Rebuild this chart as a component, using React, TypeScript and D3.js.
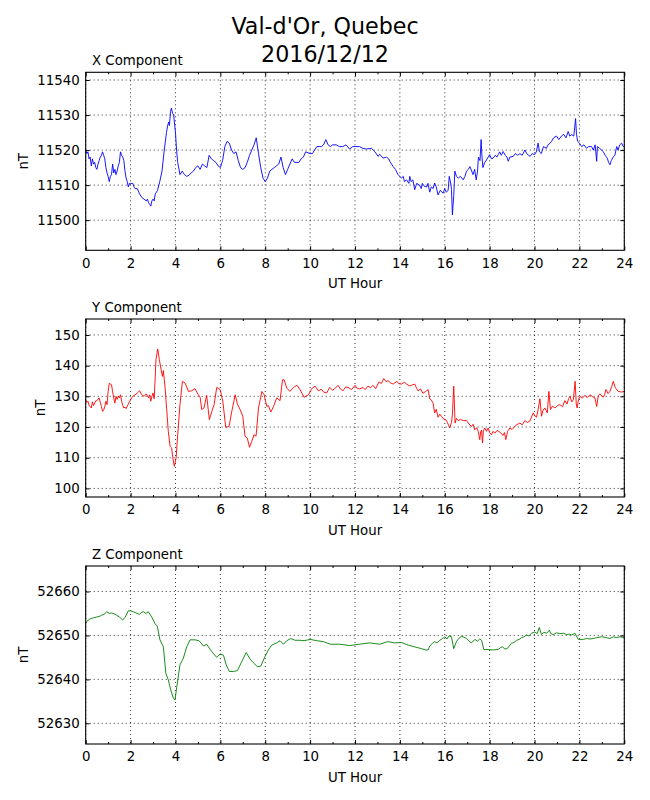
import { FC, useEffect, useRef } from 'react';
import * as d3 from 'd3';

// values (UT hour, nT)
const xHours = [
  0, 0.05, 0.1, 0.15, 0.2, 0.25, 0.3, 0.35, 0.4, 0.45, 0.5, 0.55, 0.6, 0.65, 0.7, 0.75, 0.8, 0.85, 0.9, 0.95,
  1, 1.05, 1.1, 1.15, 1.2, 1.25, 1.3, 1.35, 1.4, 1.45, 1.5, 1.55, 1.6, 1.65, 1.7, 1.75, 1.8, 1.85, 1.9, 1.95,
  2, 2.1, 2.15, 2.2, 2.3, 2.4, 2.5, 2.6, 2.7, 2.75, 2.8, 2.85, 2.9, 2.95, 3, 3.05, 3.1, 3.15, 3.2, 3.3,
  3.4, 3.5, 3.6, 3.65, 3.7, 3.73, 3.78, 3.82, 3.87, 3.92, 4, 4.05, 4.1, 4.2, 4.3, 4.4, 4.5, 4.6, 4.7, 4.8,
  4.9, 5, 5.1, 5.2, 5.3, 5.4, 5.5, 5.6, 5.7, 5.8, 5.9, 6, 6.1, 6.2, 6.3, 6.4, 6.5, 6.6, 6.7, 6.8,
  6.9, 7, 7.1, 7.2, 7.3, 7.4, 7.5, 7.6, 7.7, 7.8, 7.9, 8, 8.1, 8.2, 8.3, 8.4, 8.5, 8.6, 8.7, 8.8,
  8.9, 9, 9.1, 9.2, 9.3, 9.5, 9.6, 9.7, 9.8, 10, 10.1, 10.2, 10.3, 10.5, 10.6, 10.7, 10.8, 10.9, 11, 11.17,
  11.3, 11.46, 11.6, 11.76, 11.9, 12, 12.2, 12.35, 12.5, 12.73, 12.88, 13.03, 13.1, 13.25, 13.4, 13.5, 13.55, 13.7, 13.8, 13.92,
  14.07, 14.15, 14.2, 14.3, 14.4, 14.44, 14.5, 14.58, 14.66, 14.75, 14.88, 14.95, 15, 15.1, 15.2, 15.25, 15.33, 15.4, 15.48, 15.55,
  15.62, 15.7, 15.8, 15.93, 16, 16.07, 16.15, 16.2, 16.28, 16.3, 16.34, 16.4, 16.45, 16.52, 16.6, 16.7, 16.82, 16.9, 16.97, 17.05,
  17.12, 17.2, 17.26, 17.33, 17.4, 17.46, 17.5, 17.57, 17.62, 17.66, 17.7, 17.78, 17.86, 17.93, 18, 18.08, 18.15, 18.25, 18.32, 18.38,
  18.45, 18.52, 18.6, 18.7, 18.77, 18.83, 18.9, 19.05, 19.15, 19.25, 19.35, 19.45, 19.57, 19.65, 19.8, 19.9, 20, 20.08, 20.16, 20.22,
  20.3, 20.4, 20.53, 20.6, 20.7, 20.76, 20.85, 20.98, 21.08, 21.2, 21.3, 21.4, 21.5, 21.57, 21.65, 21.75, 21.83, 21.87, 21.92, 22,
  22.1, 22.2, 22.32, 22.4, 22.54, 22.62, 22.7, 22.77, 22.8, 22.9, 23.06, 23.15, 23.24, 23.3, 23.36, 23.42, 23.5, 23.58, 23.66, 23.72,
  23.8, 23.88, 23.95, 24,
];
const xValues = [
  11520, 11519, 11519.5, 11517.5, 11518, 11515.5, 11517.5, 11516, 11516.5, 11515, 11514.5, 11516, 11517, 11518, 11518.5, 11519.5, 11518.5, 11517.5, 11515, 11513.5,
  11512.5, 11511, 11512.5, 11513, 11516, 11513.5, 11514.5, 11513, 11514, 11515.5, 11516.5, 11519.5, 11518.5, 11518, 11517, 11514, 11512, 11511, 11509.5, 11510.5,
  11510.5, 11510.5, 11509.5, 11509, 11509, 11507.5, 11506.5, 11506, 11505.5, 11506, 11505, 11504.5, 11504, 11505.5, 11506, 11505.5, 11507.5, 11508, 11508.5, 11511,
  11514, 11520, 11525, 11527, 11528, 11527, 11531, 11532, 11530.5, 11530, 11525, 11520, 11516.5, 11513, 11514, 11513, 11512.5, 11512.8, 11513.5, 11514,
  11515, 11515.5, 11514.5, 11516, 11515.5, 11515, 11518.5, 11517.5, 11517, 11516.5, 11515.5, 11515, 11517, 11521, 11522.5, 11522, 11520, 11519, 11519.5, 11517,
  11515, 11514.5, 11515, 11516.5, 11518.5, 11520, 11521.5, 11523.5, 11519, 11515, 11512, 11511, 11512, 11514, 11514.5, 11515, 11515.5, 11516, 11518, 11515,
  11513, 11514.5, 11516, 11517.5, 11516.5, 11516.5, 11517.5, 11518, 11519.5, 11519, 11519, 11520, 11521, 11521, 11521.5, 11523, 11521.5, 11521, 11521.5, 11521.5,
  11521, 11521, 11521.5, 11520.3, 11521, 11521, 11521, 11520.5, 11520.3, 11520.5, 11519.6, 11518.2, 11518.8, 11517.7, 11518, 11517.5, 11516.8, 11515.3, 11514.5, 11513,
  11512, 11512.5, 11511, 11511.5, 11510.5, 11512.5, 11511, 11511.5, 11508.7, 11510.5, 11510, 11509, 11510.5, 11509.6, 11509.5, 11510.5, 11508, 11509.5, 11509, 11510.6,
  11509.5, 11507.2, 11508.5, 11507.7, 11509, 11508, 11508.5, 11512.5, 11510, 11508.7, 11501.5, 11507, 11514, 11512.5, 11512, 11512.5, 11511.5, 11512.5, 11514, 11514.5,
  11515.3, 11514, 11513, 11514.5, 11511.5, 11514, 11518, 11517, 11523, 11518, 11515, 11516.5, 11517.2, 11518, 11518.7, 11517.5, 11517.7, 11518.5, 11518, 11518.7,
  11519.5, 11518.5, 11519.6, 11518.5, 11518, 11516.8, 11518, 11518.2, 11519, 11518.5, 11519, 11518.5, 11520, 11519, 11518.2, 11519, 11518.7, 11519.5, 11522, 11519.5,
  11519, 11521, 11520.5, 11521.5, 11522, 11522.5, 11523.5, 11524, 11523, 11524, 11524.5, 11523.5, 11525.3, 11524, 11524.4, 11524, 11529, 11524.5, 11522.5, 11522,
  11521, 11521.5, 11520.5, 11521, 11521, 11520, 11521.5, 11516.8, 11521, 11520.5, 11519.6, 11518.5, 11517.7, 11516.5, 11515.8, 11517, 11518, 11518.5, 11521, 11520,
  11521.5, 11522, 11521, 11521,
];

const yHours = [
  0, 0.05, 0.1, 0.15, 0.2, 0.25, 0.3, 0.35, 0.4, 0.45, 0.5, 0.6, 0.65, 0.7, 0.75, 0.8, 0.85, 0.9, 0.95, 1,
  1.05, 1.1, 1.15, 1.2, 1.25, 1.3, 1.35, 1.4, 1.45, 1.5, 1.55, 1.6, 1.65, 1.7, 1.75, 1.8, 1.9, 2, 2.1, 2.2,
  2.3, 2.4, 2.5, 2.6, 2.7, 2.8, 2.85, 2.9, 2.95, 3, 3.05, 3.1, 3.13, 3.21, 3.28, 3.36, 3.42, 3.46, 3.54, 3.61,
  3.68, 3.76, 3.83, 3.88, 3.95, 4.03, 4.1, 4.2, 4.31, 4.43, 4.58, 4.72, 4.87, 5.02, 5.1, 5.17, 5.27, 5.39, 5.51, 5.62,
  5.72, 5.84, 5.99, 6.11, 6.24, 6.39, 6.51, 6.66, 6.76, 6.88, 7, 7.1, 7.2, 7.3, 7.4, 7.5, 7.59, 7.7, 7.85, 7.95,
  8.07, 8.14, 8.25, 8.37, 8.51, 8.66, 8.77, 8.84, 8.96, 9.1, 9.26, 9.41, 9.55, 9.73, 9.93, 10.07, 10.22, 10.37, 10.5, 10.6,
  10.74, 10.87, 11, 11.1, 11.24, 11.35, 11.46, 11.58, 11.69, 11.85, 12, 12.1, 12.2, 12.36, 12.45, 12.58, 12.7, 12.8, 12.92, 13.07,
  13.18, 13.28, 13.38, 13.47, 13.6, 13.7, 13.87, 13.95, 14.07, 14.2, 14.3, 14.42, 14.51, 14.66, 14.75, 14.81, 14.92, 15.03, 15.15, 15.26,
  15.33, 15.4, 15.48, 15.55, 15.62, 15.7, 15.78, 15.85, 15.95, 16.04, 16.12, 16.22, 16.3, 16.34, 16.4, 16.46, 16.52, 16.6, 16.7, 16.82,
  16.97, 17.08, 17.19, 17.26, 17.34, 17.42, 17.49, 17.56, 17.6, 17.64, 17.68, 17.72, 17.78, 17.86, 17.93, 18.0, 18.08, 18.15, 18.23, 18.33,
  18.45, 18.52, 18.6, 18.66, 18.72, 18.8, 18.9, 19.0, 19.12, 19.22, 19.35, 19.45, 19.57, 19.68, 19.8, 19.94, 20.02, 20.09, 20.16, 20.24,
  20.31, 20.38, 20.46, 20.57, 20.64, 20.71, 20.8, 20.91, 21.02, 21.13, 21.25, 21.35, 21.45, 21.52, 21.58, 21.66, 21.73, 21.81, 21.86, 21.9,
  21.96, 22.02, 22.12, 22.25, 22.35, 22.47, 22.58, 22.69, 22.77, 22.84, 22.91, 23.06, 23.12, 23.18, 23.28, 23.36, 23.44, 23.51, 23.6, 23.73,
  23.88, 24,
];
const yValues = [
  128.9, 128, 128.4, 127, 126.7, 126.2, 128.2, 127, 127.8, 128.5, 128.6, 129.5, 128, 126.7, 125.1, 125.5, 126.7, 128.4, 127.3, 131.6,
  134.3, 134, 133.8, 131.5, 129.5, 127.8, 130, 129, 130, 129.5, 130.5, 128.4, 127, 126.2, 126.5, 126, 127.5, 128.9, 130, 130.5,
  131.1, 131.8, 130.5, 130, 130.8, 129.5, 130.5, 128.4, 130, 131.1, 129.2, 136.5, 141.9, 145.4, 142, 138.7, 136.5, 138.4, 132.7, 125.7,
  118.6, 113.7, 113.2, 110, 107.2, 110, 117.5, 127.3, 134.9, 134.3, 131.6, 131.8, 132.5, 130.5, 129.7, 125.7, 126.2, 130.3, 122.4, 125.1,
  127.3, 132.9, 132.2, 128.4, 119.9, 120.2, 125.1, 130.5, 127.5, 125.7, 123.5, 117, 116.4, 113.4, 115.3, 117.5, 117, 126.2, 131.6, 130.5,
  126.7, 127, 124.9, 126.7, 129.5, 128.6, 135.4, 135.4, 132.7, 131.6, 132.9, 133.6, 132.2, 129.7, 130.5, 132.5, 133.3, 131.8, 132.3, 131.4,
  131.1, 132.9, 132, 132.5, 133.6, 132.4, 131.8, 133, 132.9, 132.2, 133.6, 132.6, 132.4, 132.9, 132.2, 133.3, 132.8, 133.6, 132.5, 134.7,
  134.2, 135.8, 134.8, 135.1, 134.3, 134, 134.9, 134.1, 134, 134.6, 134, 133.4, 133.6, 134, 132.6, 131.8, 132.4, 131, 131.6, 132.2,
  129.2, 128.8, 127.8, 124.6, 125.8, 123.2, 124.2, 123.5, 122.6, 122.4, 121.4, 119.7, 121.5, 124, 133.3, 121.3, 122.8, 122.1, 122.5, 122.1,
  122.1, 121, 120.2, 120.9, 119.1, 119.8, 118.6, 115.9, 118.5, 119, 114.8, 118.8, 119.7, 118.6, 119.7, 118.2, 117.5, 118.6, 118, 118.9,
  118.4, 117.8, 117.3, 118.2, 115.9, 118.6, 119.7, 119.2, 120.2, 120.8, 121.3, 120.7, 122.1, 121.5, 122, 124.6, 123.6, 123.2, 125.7, 129.2,
  123.5, 125.5, 126.2, 124.6, 131.6, 125.7, 126.8, 126.2, 127, 127.3, 126.6, 128.6, 127.5, 129.3, 130, 128.2, 128.9, 134.9, 127.5, 126.2,
  129, 130, 129.4, 130.3, 129.6, 130.5, 129.9, 129.5, 126.7, 130.2, 130.8, 129.7, 130.5, 132.2, 130.9, 131.6, 133.2, 134.9, 132.8, 131.6,
  131.4, 131.6,
];

const zHours = [
  0, 0.05, 0.12, 0.2, 0.27, 0.35, 0.49, 0.6, 0.71, 0.82, 0.94, 1.05, 1.16, 1.27, 1.38, 1.5, 1.65, 1.75, 1.9, 2.0,
  2.12, 2.25, 2.39, 2.48, 2.57, 2.68, 2.79, 2.94, 3.09, 3.19, 3.31, 3.46, 3.57, 3.68, 3.79, 3.91, 3.98, 4.06, 4.2, 4.35,
  4.5, 4.65, 4.87, 5.05, 5.25, 5.39, 5.62, 5.84, 5.99, 6.14, 6.26, 6.4, 6.58, 6.76, 6.95, 7.15, 7.33, 7.47, 7.65, 7.8,
  7.99, 8.14, 8.29, 8.51, 8.66, 8.81, 8.96, 9.14, 9.33, 9.55, 9.73, 10, 10.3, 10.59, 10.9, 11.32, 11.76, 12.2, 12.65, 13.1,
  13.47, 13.77, 14.07, 14.37, 14.66, 14.96, 15.15, 15.26, 15.33, 15.45, 15.55, 15.65, 15.78, 15.9, 16, 16.1, 16.19, 16.3, 16.4, 16.52,
  16.62, 16.74, 16.86, 16.97, 17.08, 17.19, 17.34, 17.46, 17.56, 17.64, 17.74, 17.93, 18.15, 18.38, 18.48, 18.57, 18.68, 18.78, 18.97, 19.08,
  19.2, 19.32, 19.42, 19.54, 19.64, 19.75, 19.87, 20.01, 20.12, 20.21, 20.31, 20.42, 20.54, 20.66, 20.73, 20.83, 20.98, 21.13, 21.28, 21.43,
  21.55, 21.65, 21.8, 21.95, 22.17, 22.32, 22.47, 22.62, 22.77, 22.99, 23.21, 23.36, 23.51, 23.65, 23.8, 24,
];
const zValues = [
  52652.7, 52653.2, 52653.5, 52653.8, 52653.9, 52654, 52654.2, 52654.3, 52654.6, 52654.8, 52655.4, 52655, 52655.1, 52654.9, 52654.6, 52654.2, 52653.5, 52654.1, 52655.6, 52655.6,
  52655.4, 52655.1, 52654.8, 52655.2, 52655.4, 52655, 52655.4, 52654.2, 52652.7, 52652.1, 52649, 52647.4, 52641.4, 52639.9, 52637.6, 52635.7, 52635.3, 52638.4, 52643.3, 52644.8,
  52647.4, 52649, 52649, 52648.8, 52647.6, 52648, 52646.3, 52645, 52645.8, 52645.5, 52643.3, 52641.8, 52641.8, 52642, 52644, 52646.1, 52644.6, 52643.8, 52642.9, 52643,
  52645.2, 52646.7, 52647.8, 52648.3, 52648.8, 52648, 52648.8, 52649.3, 52648.9, 52648.9, 52648.8, 52649.1, 52648.8, 52648.6, 52648, 52648, 52647.7, 52648, 52648.3, 52648,
  52648.6, 52648.3, 52648.4, 52647.8, 52647.4, 52647, 52646.7, 52646.7, 52647.6, 52648.2, 52648.6, 52648.3, 52648.9, 52649.3, 52649.7, 52649.2, 52649.9, 52649.7, 52647, 52648.6,
  52649.3, 52649.8, 52649.6, 52649.3, 52648.7, 52648.3, 52649.1, 52648.7, 52649.2, 52648.9, 52646.8, 52646.8, 52646.7, 52646.8, 52647.2, 52647.4, 52646.9, 52647, 52648.2, 52648.4,
  52648.9, 52649.1, 52649.5, 52649.7, 52650.1, 52649.9, 52650.5, 52650.8, 52650.4, 52651.8, 52650.2, 52650.7, 52650.5, 52651.2, 52650.4, 52650.2, 52650.6, 52650.4, 52650.5, 52650.2,
  52650.3, 52650.1, 52650.5, 52649.1, 52649.1, 52649.3, 52649.2, 52649.3, 52649.5, 52649.7, 52649.5, 52649.3, 52649.7, 52649.5, 52649.7, 52649.5,
];

const hourTicks = [0, 2, 4, 6, 8, 10, 12, 14, 16, 18, 20, 22, 24];
const hourMinorTicks = [1, 3, 5, 7, 9, 11, 13, 15, 17, 19, 21, 23];
const xTicks = [11500, 11510, 11520, 11530, 11540];
const yTicks = [100, 110, 120, 130, 140, 150];
const zTicks = [52630, 52640, 52650, 52660];

const panels = [
  { name: 'X Component', hours: xHours, values: xValues, ticks: xTicks, domain: [11491.4, 11542.2], color: '#0000ff' },
  { name: 'Y Component', hours: yHours, values: yValues, ticks: yTicks, domain: [97.2, 155.2], color: '#ff0000' },
  { name: 'Z Component', hours: zHours, values: zValues, ticks: zTicks, domain: [52625.3, 52665.8], color: '#008000' },
];

const FONT = '"DejaVu Sans", sans-serif';

const App: FC = () => {
  const ref = useRef<SVGSVGElement | null>(null);

  useEffect(() => {
    const svg = d3.select(ref.current);
    svg.selectAll('*').remove();

    const left = 85.7;
    const right = 624.3;
    const plotH = 178;
    const tops = [72.3, 319, 566];

    // figure title
    const title = svg.append('text')
      .attr('text-anchor', 'middle')
      .attr('font-family', FONT)
      .attr('font-size', 22.2)
      .attr('fill', 'black');
    title.append('tspan').attr('x', 325).attr('y', 34.3).text("Val-d'Or, Quebec");
    title.append('tspan').attr('x', 325).attr('y', 61.7).text('2016/12/12');

    const x = d3.scaleLinear().domain([0, 24]).range([left, right]);

    panels.forEach((p, i) => {
      const top = tops[i];
      const bottom = top + plotH;
      const y = d3.scaleLinear().domain(p.domain).range([bottom, top]);

      const g = svg.append('g');

      // dotted grid
      g.selectAll('.vgrid')
        .data(hourTicks)
        .enter()
        .append('line')
        .attr('x1', d => x(d)).attr('x2', d => x(d))
        .attr('y1', top).attr('y2', bottom)
        .attr('stroke', 'black').attr('stroke-width', 0.8)
        .attr('stroke-dasharray', '1,3');
      g.selectAll('.hgrid')
        .data(p.ticks)
        .enter()
        .append('line')
        .attr('x1', left).attr('x2', right)
        .attr('y1', d => y(d)).attr('y2', d => y(d))
        .attr('stroke', 'black').attr('stroke-width', 0.8)
        .attr('stroke-dasharray', '1,3');

      // data trace
      const pts: [number, number][] = p.hours.map((h, k) => [h, p.values[k]]);
      const line = d3.line<[number, number]>()
        .x(d => x(d[0]))
        .y(d => y(d[1]));
      g.append('path')
        .datum(pts)
        .attr('d', line)
        .attr('fill', 'none')
        .attr('stroke', p.color)
        .attr('stroke-width', 0.9)
        .attr('stroke-linejoin', 'round');

      // axes, ticks pointing inward
      const styleAxis = (sel: d3.Selection<SVGGElement, unknown, null, undefined>) => {
        sel.select('.domain').remove();
        sel.selectAll('.tick line').attr('stroke', 'black').attr('stroke-width', 1);
        sel.selectAll('text')
          .attr('fill', 'black')
          .attr('font-family', FONT)
          .attr('font-size', 13.33);
      };

      g.append('g')
        .attr('transform', `translate(0,${bottom})`)
        .call(d3.axisBottom(x).tickValues(hourTicks).tickSize(-4).tickPadding(8).tickFormat(d3.format('d')))
        .call(styleAxis);
      g.append('g')
        .attr('transform', `translate(0,${bottom})`)
        .call(d3.axisBottom(x).tickValues(hourMinorTicks).tickSize(-2).tickFormat(() => ''))
        .call(styleAxis);
      g.append('g')
        .attr('transform', `translate(0,${top})`)
        .call(d3.axisTop(x).tickValues(hourTicks).tickSize(-4).tickFormat(() => ''))
        .call(styleAxis);
      g.append('g')
        .attr('transform', `translate(0,${top})`)
        .call(d3.axisTop(x).tickValues(hourMinorTicks).tickSize(-2).tickFormat(() => ''))
        .call(styleAxis);

      const yAxis = g.append('g')
        .attr('transform', `translate(${left},0)`)
        .call(d3.axisLeft(y).tickValues(p.ticks).tickSize(-4).tickPadding(6).tickFormat(d3.format('d')))
        .call(styleAxis);
      g.append('g')
        .attr('transform', `translate(${right},0)`)
        .call(d3.axisRight(y).tickValues(p.ticks).tickSize(-4).tickFormat(() => ''))
        .call(styleAxis);

      // frame
      g.append('rect')
        .attr('x', left).attr('y', top)
        .attr('width', right - left).attr('height', plotH)
        .attr('fill', 'none')
        .attr('stroke', 'black')
        .attr('stroke-width', 1.1);

      // labels
      g.append('text')
        .attr('x', 92).attr('y', top - 7)
        .attr('font-family', FONT).attr('font-size', 13.33)
        .text(p.name);

      g.append('text')
        .attr('x', (left + right) / 2).attr('y', bottom + 38)
        .attr('text-anchor', 'middle')
        .attr('font-family', FONT).attr('font-size', 13.33)
        .text('UT Hour');

      const bb = (yAxis.node() as SVGGElement).getBBox();
      const lx = bb.x + left - 9;
      const ly = (top + bottom) / 2;
      g.append('text')
        .attr('transform', `translate(${lx},${ly}) rotate(-90)`)
        .attr('text-anchor', 'middle')
        .attr('font-family', FONT).attr('font-size', 13.33)
        .text('nT');
    });
  }, []);

  return (
    <svg
      ref={ref}
      width={650}
      height={800}
      style={{ position: 'absolute', left: 0, top: 0, background: 'white' }}
    />
  );
};

export default App;
